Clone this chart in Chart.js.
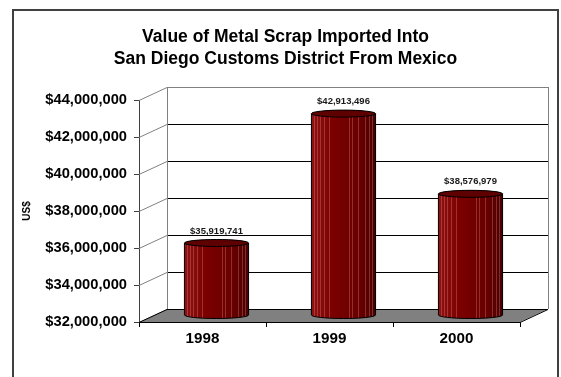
<!DOCTYPE html>
<html lang="en">
<head>
    <meta charset="UTF-8">
    <title>Value of Metal Scrap Imported Into San Diego Customs District From Mexico</title>
    <script src="https://cdn.jsdelivr.net/npm/chart.js"></script>
    <style>
        html, body {
            margin: 0;
            padding: 0;
            background: white;
        }
        canvas {
            display: block;
        }
    </style>
</head>
<body>
    <canvas id="scrapChart" width="561" height="377"></canvas>

    <script>
        // Data
        const years = ['1998', '1999', '2000'];
        const scrapValues = [35919741, 42913496, 38576979];
        const axisMin = 32000000;
        const axisMax = 44000000;
        const axisStep = 2000000;
        const titleLines = ['Value of Metal Scrap Imported Into', 'San Diego Customs District From Mexico'];
        const axisTitle = 'US$';

        // 3D depth offset of the back wall (pixels)
        const DX = 28;
        const DY = 13;
        const FONT = 'Arial, "Liberation Sans", sans-serif';

        function money(v) {
            return '$' + Math.round(v).toLocaleString('en-US');
        }

        // Frame, back wall, gridlines, floor and the cylinders
        const wallPlugin = {
            id: 'wall',
            beforeDraw(chart) {
                const ctx = chart.ctx;
                ctx.save();
                ctx.strokeStyle = '#404040';
                ctx.lineWidth = 2;
                ctx.strokeRect(13, 10, 545, 400);
                ctx.restore();
            },
            beforeDatasetsDraw(chart) {
                const ctx = chart.ctx;
                const { left, right, top, bottom } = chart.chartArea;
                const y = chart.scales.y;
                ctx.save();
                ctx.lineWidth = 1;

                // floor
                ctx.fillStyle = '#808080';
                ctx.beginPath();
                ctx.moveTo(left, bottom);
                ctx.lineTo(right, bottom);
                ctx.lineTo(right + DX, bottom - DY);
                ctx.lineTo(left + DX, bottom - DY);
                ctx.closePath();
                ctx.fill();

                // back wall gridlines + diagonals from the front axis
                y.ticks.forEach((t, i) => {
                    const py = Math.round(y.getPixelForValue(t.value)) + 0.5;
                    ctx.strokeStyle = i === y.ticks.length - 1 ? '#808080' : '#000000';
                    ctx.beginPath();
                    ctx.moveTo(left + DX, py - DY);
                    ctx.lineTo(right + DX, py - DY);
                    ctx.stroke();

                    ctx.strokeStyle = i === 0 ? '#000000' : '#808080';
                    ctx.beginPath();
                    ctx.moveTo(left, py);
                    ctx.lineTo(left + DX, py - DY);
                    ctx.stroke();
                });

                // wall edges
                ctx.strokeStyle = '#808080';
                ctx.beginPath();
                ctx.moveTo(left + DX + 0.5, top - DY);
                ctx.lineTo(left + DX + 0.5, bottom - DY);
                ctx.moveTo(right + DX + 0.5, top - DY);
                ctx.lineTo(right + DX + 0.5, bottom - DY);
                ctx.stroke();

                // right floor edge
                ctx.strokeStyle = '#000000';
                ctx.beginPath();
                ctx.moveTo(right, bottom + 0.5);
                ctx.lineTo(right + DX, bottom - DY + 0.5);
                ctx.stroke();
                ctx.restore();
            },
            afterDatasetsDraw(chart) {
                const ctx = chart.ctx;
                const meta = chart.getDatasetMeta(0);
                const stripes = [0.04, 0.09, 0.14, 0.2, 0.27, 0.58, 0.64, 0.72, 0.83, 0.9, 0.95];
                ctx.save();
                meta.data.forEach((bar, i) => {
                    const p = bar.getProps(['x', 'y', 'base', 'width'], true);
                    const cx = p.x + DX / 2;
                    const top = p.y - DY / 2;
                    const bot = p.base - DY / 2;
                    const rx = p.width / 2;
                    const ry = 3.5;

                    const g = ctx.createLinearGradient(cx - rx, 0, cx + rx, 0);
                    g.addColorStop(0, '#8e1212');
                    g.addColorStop(0.35, '#7a0000');
                    g.addColorStop(0.75, '#680000');
                    g.addColorStop(1, '#480000');

                    // body
                    ctx.beginPath();
                    ctx.moveTo(cx - rx, top);
                    ctx.lineTo(cx - rx, bot);
                    ctx.ellipse(cx, bot, rx, ry, 0, Math.PI, 0, true);
                    ctx.lineTo(cx + rx, top);
                    ctx.ellipse(cx, top, rx, ry, 0, 0, Math.PI, true);
                    ctx.closePath();
                    ctx.fillStyle = g;
                    ctx.fill();

                    // faint vertical stripes
                    ctx.save();
                    ctx.clip();
                    ctx.strokeStyle = 'rgba(255, 160, 160, 0.28)';
                    ctx.lineWidth = 1;
                    stripes.forEach(f => {
                        const sx = Math.round(cx - rx + f * 2 * rx) + 0.5;
                        ctx.beginPath();
                        ctx.moveTo(sx, top);
                        ctx.lineTo(sx, bot + ry);
                        ctx.stroke();
                    });
                    ctx.restore();

                    ctx.strokeStyle = '#000000';
                    ctx.lineWidth = 1;
                    ctx.beginPath();
                    ctx.moveTo(cx - rx, top);
                    ctx.lineTo(cx - rx, bot);
                    ctx.ellipse(cx, bot, rx, ry, 0, Math.PI, 0, true);
                    ctx.lineTo(cx + rx, top);
                    ctx.stroke();

                    // top cap
                    ctx.beginPath();
                    ctx.ellipse(cx, top, rx, ry, 0, 0, Math.PI * 2);
                    ctx.fillStyle = '#5e0000';
                    ctx.fill();
                    ctx.stroke();

                    // value label
                    ctx.fillStyle = '#1a1a1a';
                    ctx.font = 'bold 9.5px ' + FONT;
                    ctx.textAlign = 'center';
                    ctx.textBaseline = 'middle';
                    ctx.fillText(money(scrapValues[i]), cx, top - 12);
                });
                ctx.restore();
            }
        };

        new Chart(document.getElementById('scrapChart').getContext('2d'), {
            type: 'bar',
            data: {
                labels: years,
                datasets: [{
                    label: 'Value',
                    data: scrapValues,
                    yAxisID: 'y',
                    base: axisMin,
                    backgroundColor: 'rgba(0,0,0,0)',
                    borderWidth: 0,
                    barPercentage: 0.505,
                    categoryPercentage: 1
                }]
            },
            options: {
                responsive: false,
                animation: false,
                layout: { padding: { left: 10, right: 0, top: 0, bottom: 0 } },
                plugins: {
                    legend: { display: false },
                    tooltip: { enabled: false },
                    title: {
                        display: true,
                        text: titleLines,
                        color: '#000000',
                        font: { family: FONT, size: 17.5, weight: 'bold', lineHeight: 22 / 17.5 },
                        padding: { top: 26, bottom: 30 }
                    }
                },
                scales: {
                    x: {
                        grid: { display: true, drawOnChartArea: false, drawTicks: true, tickLength: 5, color: '#000000', offset: true },
                        border: { display: true, color: '#000000' },
                        ticks: { color: '#000000', padding: 3, font: { family: FONT, size: 15.2, weight: 'bold' } },
                        afterFit(scale) { scale.height = 55; }
                    },
                    y: {
                        min: axisMin,
                        max: axisMax,
                        beginAtZero: false,
                        grid: { display: true, drawOnChartArea: false, drawTicks: true, tickLength: 5, color: '#404040' },
                        border: { display: true, color: '#404040' },
                        ticks: {
                            stepSize: axisStep,
                            color: '#000000',
                            padding: 7,
                            font: { family: FONT, size: 14.7, weight: 'bold' },
                            callback: v => money(v)
                        },
                        title: {
                            display: true,
                            text: axisTitle,
                            color: '#000000',
                            font: { family: FONT, size: 10, weight: 'bold' },
                            padding: { top: 11, bottom: 0 }
                        },
                        afterFit(scale) { scale.width = 129; }
                    },
                    yRight: {
                        type: 'linear',
                        position: 'right',
                        display: true,
                        grid: { display: false, drawTicks: false },
                        border: { display: false },
                        ticks: { display: false },
                        afterFit(scale) { scale.width = 41; }
                    }
                }
            },
            plugins: [wallPlugin]
        });
    </script>
</body>
</html>
